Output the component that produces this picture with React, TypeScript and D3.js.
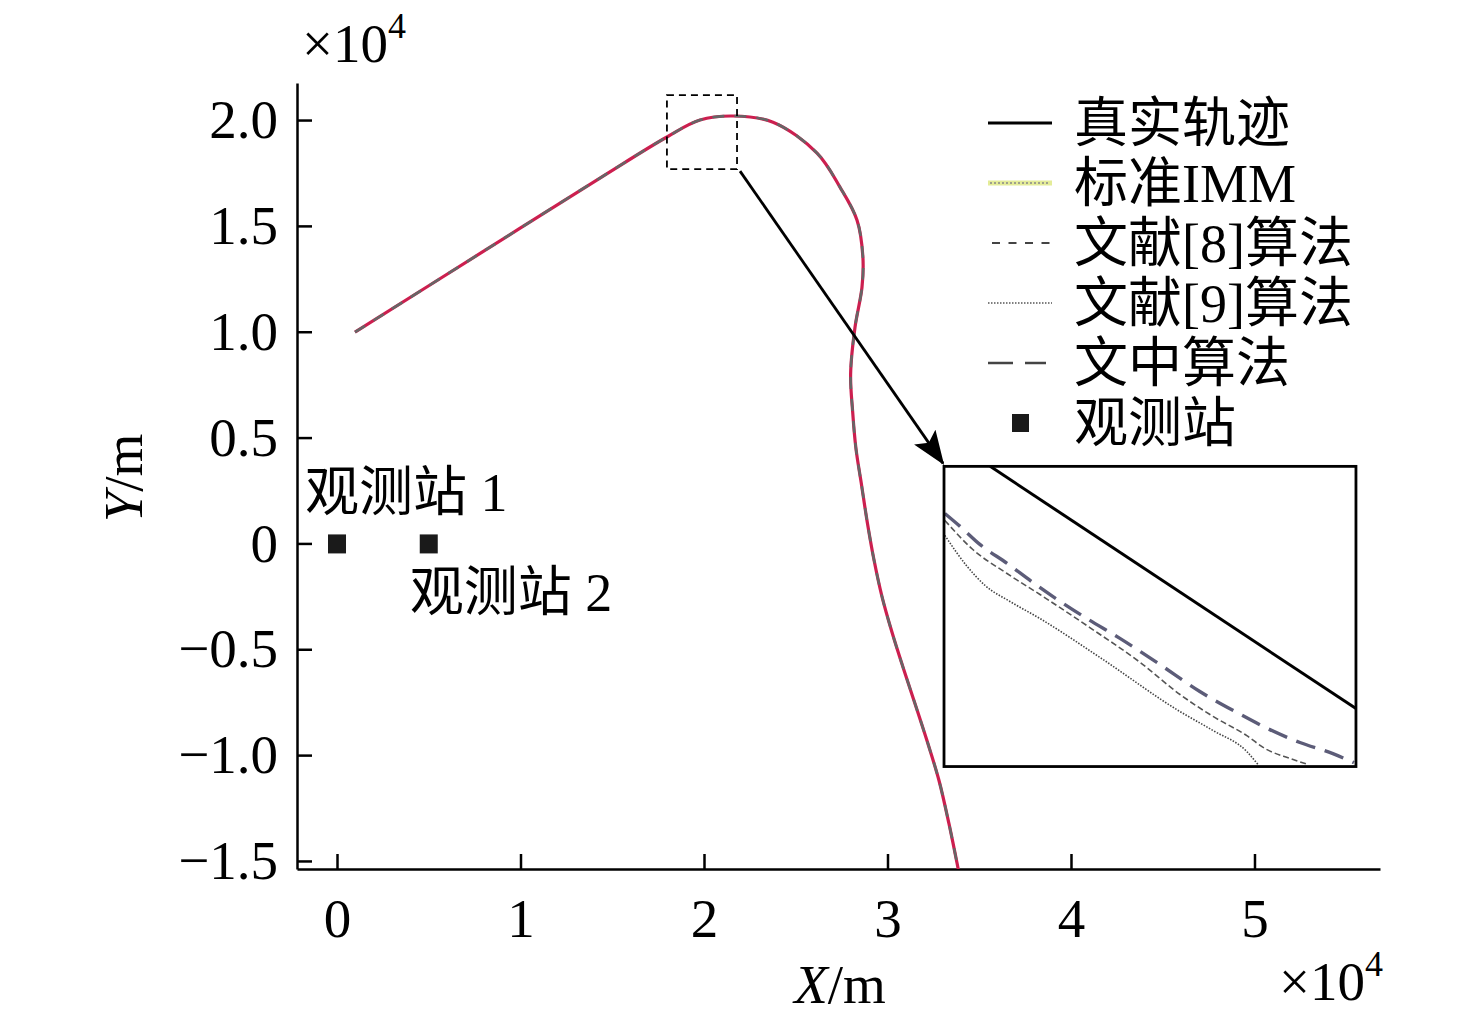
import { useEffect, useRef } from 'react';
import * as d3 from 'd3';

// main trajectory (units of 1e4 m)
const trackX = [0.098, 0.78, 1.433, 1.798, 1.978, 2.158, 2.376, 2.616, 2.741, 2.834, 2.866, 2.861, 2.823, 2.799, 2.81, 2.828, 2.859, 2.89, 2.926, 2.97, 3.025, 3.085, 3.15, 3.215, 3.281, 3.335, 3.384, 3.387];
const trackY = [0.998, 1.37, 1.726, 1.92, 2.0, 2.019, 1.99, 1.844, 1.683, 1.527, 1.352, 1.21, 1.021, 0.799, 0.624, 0.449, 0.274, 0.099, -0.076, -0.251, -0.421, -0.586, -0.757, -0.931, -1.121, -1.324, -1.532, -1.545];

// observation stations
const stationX = [0, 0.5];
const stationY = [0, 0];
const stationLabels = ['观测站 1', '观测站 2'];

// zoom window on the main plot, and the inset box it is shown in
const zoomX = [1.798, 2.18];
const zoomY = [1.768, 2.118];
const insetX = [3.308, 5.553];
const insetY = [-1.054, 0.364];

// inset curves, local units 0..100
const insetTrueU = [11.2, 100];
const insetTrueV = [100, 19.3];
const insetOursU = [0.2, 3.9, 8.7, 15.3, 21.6, 28.2, 34.7, 42.7, 52.4, 62.1, 71.1, 79.1, 86.4, 94.4, 99.5];
const insetOursV = [84.3, 80.0, 74.0, 67.7, 61.3, 55.0, 49.3, 42.7, 34.0, 25.0, 18.0, 12.3, 8.0, 4.3, 1.3];
const insetRef8U = [0.2, 7.0, 15.3, 23.3, 35.4, 47.6, 57.3, 65.3, 73.5, 77.9, 84.0, 88.3];
const insetRef8V = [82.0, 72.3, 64.3, 57.3, 46.3, 34.7, 24.0, 16.7, 10.3, 6.0, 2.7, 0.7];
const insetRef9U = [0.2, 5.6, 10.0, 16.0, 23.3, 37.9, 57.3, 65.3, 73.5, 76.2];
const insetRef9V = [77.0, 66.7, 60.3, 55.0, 49.3, 36.3, 18.3, 12.0, 5.0, 0.7];

const xTicks = [0, 1, 2, 3, 4, 5];
const yTicks = [-1.5, -1.0, -0.5, 0, 0.5, 1.0, 1.5, 2.0];
const legendLabels = ['真实轨迹', '标准IMM', '文献[8]算法', '文献[9]算法', '文中算法', '观测站'];

const FONT = '"Liberation Serif", "Times New Roman", "Noto Sans CJK SC", serif';

export default function App() {
  const ref = useRef<SVGSVGElement>(null);

  useEffect(() => {
    if (!ref.current) return;
    const svg = d3.select(ref.current);
    svg.selectAll('*').remove();

    const x = d3.scaleLinear().domain([-0.218, 5.684]).range([297, 1380]);
    const y = d3.scaleLinear().domain([-1.538, 2.175]).range([869, 83]);

    const defs = svg.append('defs');
    defs.append('marker')
      .attr('id', 'arrow')
      .attr('markerUnits', 'userSpaceOnUse')
      .attr('markerWidth', 34)
      .attr('markerHeight', 26)
      .attr('refX', 32)
      .attr('refY', 13)
      .attr('orient', 'auto')
      .append('path')
      .attr('d', 'M0,0 L34,13 L0,26 L7,13 Z')
      .attr('fill', '#000');
    defs.append('clipPath').attr('id', 'plot')
      .append('rect').attr('x', 297).attr('y', 83).attr('width', 1083).attr('height', 786);

    // axes
    const yAxis = svg.append('g')
      .attr('transform', `translate(${x.range()[0]},0)`)
      .call(d3.axisLeft(y).tickValues(yTicks).tickSize(-15).tickSizeOuter(0).tickPadding(19)
        .tickFormat(d => (d === 0 ? '0' : d3.format('.1f')(d as number))));
    const xAxis = svg.append('g')
      .attr('transform', `translate(0,${y.range()[0]})`)
      .call(d3.axisBottom(x).tickValues(xTicks).tickSize(-15).tickSizeOuter(0).tickPadding(29)
        .tickFormat(d3.format('d')));
    [xAxis, yAxis].forEach(g => {
      g.select('.domain').attr('stroke-width', 2.5);
      g.selectAll('.tick line').attr('stroke-width', 2.5);
      g.selectAll('.tick text').attr('font-family', FONT).attr('font-size', 55).attr('fill', '#000');
    });

    // trajectory
    const track = d3.zip(trackX, trackY) as [number, number][];
    const line = d3.line<[number, number]>()
      .x(d => x(d[0]))
      .y(d => y(d[1]))
      .curve(d3.curveCatmullRom);
    const plot = svg.append('g').attr('clip-path', 'url(#plot)');
    plot.append('path').attr('d', line(track)).attr('fill', 'none')
      .attr('stroke', '#cc1f4f').attr('stroke-width', 3.2);
    plot.append('path').attr('d', line(track)).attr('fill', 'none')
      .attr('stroke', '#666').attr('stroke-width', 2.6).attr('stroke-dasharray', '12 10');

    // stations
    svg.selectAll('.station')
      .data(stationX)
      .enter()
      .append('rect')
      .attr('x', d => x(d) - 9)
      .attr('y', (d, i) => y(stationY[i]) - 9)
      .attr('width', 18)
      .attr('height', 19)
      .attr('fill', '#1a1a1a');
    svg.append('text').attr('x', x(stationX[0]) - 32).attr('y', y(stationY[0]) - 52).attr('dy', '0.36em')
      .attr('font-family', FONT).attr('font-size', 54).text(stationLabels[0]);
    svg.append('text').attr('x', x(stationX[1]) - 19).attr('y', y(stationY[1]) + 48).attr('dy', '0.36em')
      .attr('font-family', FONT).attr('font-size', 54).text(stationLabels[1]);

    // zoom window
    svg.append('rect')
      .attr('x', x(zoomX[0])).attr('y', y(zoomY[1]))
      .attr('width', x(zoomX[1]) - x(zoomX[0])).attr('height', y(zoomY[0]) - y(zoomY[1]))
      .attr('fill', 'none').attr('stroke', '#000').attr('stroke-width', 1.8).attr('stroke-dasharray', '7 5');

    // arrow to inset
    svg.append('line')
      .attr('x1', x(zoomX[1]) + 3).attr('y1', y(zoomY[0]) + 2)
      .attr('x2', x(insetX[0]) - 1).attr('y2', y(insetY[1]) - 3)
      .attr('stroke', '#000').attr('stroke-width', 2.8).attr('marker-end', 'url(#arrow)');

    // inset
    const ix = d3.scaleLinear().domain([0, 100]).range([x(insetX[0]), x(insetX[1])]);
    const iy = d3.scaleLinear().domain([0, 100]).range([y(insetY[0]), y(insetY[1])]);
    svg.append('rect')
      .attr('x', ix(0)).attr('y', iy(100))
      .attr('width', ix(100) - ix(0)).attr('height', iy(0) - iy(100))
      .attr('fill', '#fff');
    const iline = d3.line<[number, number]>()
      .x(d => ix(d[0]))
      .y(d => iy(d[1]))
      .curve(d3.curveMonotoneX);
    const inset = svg.append('g');
    inset.append('path').attr('d', iline(d3.zip(insetRef9U, insetRef9V) as [number, number][]))
      .attr('fill', 'none').attr('stroke', '#444').attr('stroke-width', 1.6).attr('stroke-dasharray', '1.5 1.5');
    inset.append('path').attr('d', iline(d3.zip(insetRef8U, insetRef8V) as [number, number][]))
      .attr('fill', 'none').attr('stroke', '#555').attr('stroke-width', 1.6).attr('stroke-dasharray', '6 3');
    inset.append('path').attr('d', iline(d3.zip(insetOursU, insetOursV) as [number, number][]))
      .attr('fill', 'none').attr('stroke', '#5c5c78').attr('stroke-width', 3.4).attr('stroke-dasharray', '20 10');
    inset.append('path').attr('d', iline(d3.zip(insetTrueU, insetTrueV) as [number, number][]))
      .attr('fill', 'none').attr('stroke', '#000').attr('stroke-width', 3);
    svg.append('rect')
      .attr('x', ix(0)).attr('y', iy(100))
      .attr('width', ix(100) - ix(0)).attr('height', iy(0) - iy(100))
      .attr('fill', 'none').attr('stroke', '#000').attr('stroke-width', 2.8);

    // legend
    const legend = svg.append('g');
    const rowY = (i: number) => 123 + i * 60;
    legend.append('line').attr('x1', 988).attr('x2', 1052).attr('y1', rowY(0)).attr('y2', rowY(0))
      .attr('stroke', '#000').attr('stroke-width', 3);
    legend.append('line').attr('x1', 988).attr('x2', 1052).attr('y1', rowY(1)).attr('y2', rowY(1))
      .attr('stroke', '#e4ec98').attr('stroke-width', 5);
    legend.append('line').attr('x1', 990).attr('x2', 1050).attr('y1', rowY(1)).attr('y2', rowY(1))
      .attr('stroke', '#888').attr('stroke-width', 1.5).attr('stroke-dasharray', '2 2');
    legend.append('line').attr('x1', 992).attr('x2', 1050).attr('y1', rowY(2)).attr('y2', rowY(2))
      .attr('stroke', '#444').attr('stroke-width', 2.2).attr('stroke-dasharray', '8 8.5');
    legend.append('line').attr('x1', 988).attr('x2', 1052).attr('y1', rowY(3)).attr('y2', rowY(3))
      .attr('stroke', '#555').attr('stroke-width', 1.6).attr('stroke-dasharray', '1.5 1.5');
    legend.append('line').attr('x1', 988).attr('x2', 1046).attr('y1', rowY(4)).attr('y2', rowY(4))
      .attr('stroke', '#444').attr('stroke-width', 2.6).attr('stroke-dasharray', '25 12');
    legend.append('rect').attr('x', 1012).attr('y', rowY(5) - 9).attr('width', 17).attr('height', 18)
      .attr('fill', '#1a1a1a');
    legend.selectAll('text')
      .data(legendLabels)
      .enter()
      .append('text')
      .attr('x', 1074)
      .attr('y', (d, i) => rowY(i))
      .attr('dy', '0.36em')
      .attr('font-family', FONT)
      .attr('font-size', 54)
      .text(d => d);

    // axis titles and multipliers
    const yt = svg.append('text').attr('transform', 'translate(142,478) rotate(-90)')
      .attr('text-anchor', 'middle').attr('font-family', FONT).attr('font-size', 55);
    yt.append('tspan').attr('font-style', 'italic').text('Y');
    yt.append('tspan').text('/m');
    const xt = svg.append('text').attr('x', 840).attr('y', 1003)
      .attr('text-anchor', 'middle').attr('font-family', FONT).attr('font-size', 55);
    xt.append('tspan').attr('font-style', 'italic').text('X');
    xt.append('tspan').text('/m');

    const mult = (px: number, py: number) => {
      const t = svg.append('text').attr('x', px).attr('y', py).attr('font-family', FONT).attr('font-size', 55);
      t.append('tspan').text('×10');
      t.append('tspan').attr('font-size', 36).attr('dy', -24).text('4');
    };
    mult(302, 62);
    mult(1279, 1000);
  }, []);

  return (
    <div style={{ position: 'absolute', left: 0, top: 0 }}>
      <svg ref={ref} width={1476} height={1021} style={{ display: 'block', background: '#fff' }} />
    </div>
  );
}
